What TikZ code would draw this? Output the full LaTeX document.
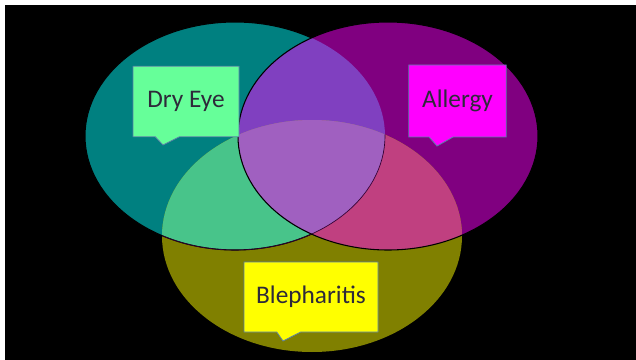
\documentclass[tikz,border=0pt]{standalone}
\usepackage{fontspec}
\setmainfont{Carlito}
\usetikzlibrary{shapes.callouts}
\definecolor{tealA}{HTML}{008080}
\definecolor{purpB}{HTML}{800080}
\definecolor{oliveC}{HTML}{808000}
\definecolor{AB}{HTML}{8040C0}
\definecolor{AC}{HTML}{48C48A}
\definecolor{BC}{HTML}{C04080}
\definecolor{ABC}{HTML}{A060C0}
\definecolor{boxedge}{HTML}{5A7FA8}
\definecolor{labeltext}{HTML}{2E2A3A}
\definecolor{dryfill}{HTML}{66FF99}
\definecolor{allergyfill}{HTML}{FF00FF}
\definecolor{blephfill}{HTML}{FFFF00}
\tikzset{
  calloutbox/.style={rectangle callout, draw=boxedge, line width=0.6pt,
    text=labeltext, font=\fontsize{19}{22}\selectfont, inner sep=0pt,
    callout pointer width=18pt},
  outline/.style={draw=black, line width=0.8pt}
}
\begin{document}
\begin{tikzpicture}[x=0.75pt,y=-0.75pt]
\useasboundingbox (0,0) rectangle (636,360);
\fill[white] (0,0) rectangle (636,360);
\fill[black] (5,5) rectangle (636,360);
% ellipse paths
\def\ellA{(235,136) ellipse [x radius=150, y radius=114]}
\def\ellB{(388,136) ellipse [x radius=150, y radius=114]}
\def\ellC{(312,236) ellipse [x radius=150, y radius=116]}
\fill[tealA] \ellA;
\fill[purpB] \ellB;
\fill[oliveC] \ellC;
\begin{scope}
  \clip \ellA; \fill[AB] \ellB;
\end{scope}
\begin{scope}
  \clip \ellA; \fill[AC] \ellC;
\end{scope}
\begin{scope}
  \clip \ellB; \fill[BC] \ellC;
\end{scope}
\begin{scope}
  \clip \ellA; \clip \ellB; \fill[ABC] \ellC;
\end{scope}
% teal outline: hidden where it crosses the purple-only area
\begin{scope}[even odd rule]
  \clip (0,0) rectangle (636,360) \ellB;
  \draw[outline] \ellA;
\end{scope}
\begin{scope}
  \clip \ellC;
  \draw[outline, line width=0.5pt, draw=black!60!purpB] \ellA;
\end{scope}
\draw[outline] \ellB;
% callouts
\node[calloutbox, fill=dryfill, minimum width=79.5pt, minimum height=53pt,
  callout absolute pointer={(163,145)}] (dry) at (186,101.5) {\raisebox{-1.5pt}{Dry Eye}};
\node[calloutbox, fill=allergyfill, minimum width=73pt, minimum height=54pt,
  callout absolute pointer={(437,146)}] (allergy) at (457.5,101) {\raisebox{-1.5pt}{Allergy}};
\node[calloutbox, fill=blephfill, minimum width=100.5pt, minimum height=52.5pt,
  callout absolute pointer={(283,341)}] (bleph) at (311,297) {\raisebox{-1pt}{Blepharitis}};
\end{tikzpicture}
\end{document}
